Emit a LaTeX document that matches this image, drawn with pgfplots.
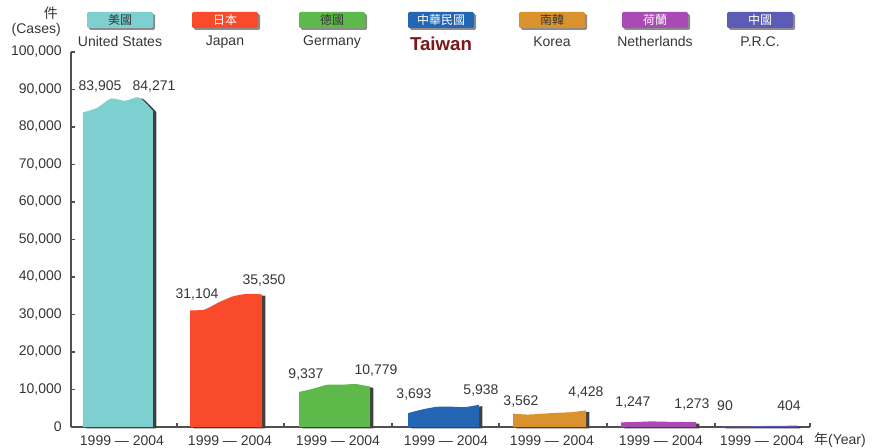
\documentclass[border=0pt]{standalone}
\usepackage{pgfplots}
\pgfplotsset{compat=1.18}
\usepackage{fontspec}
\setmainfont{Liberation Sans}
\newfontfamily\cjk{Noto Sans CJK TC}
\definecolor{cUS}{HTML}{7ECFCF}
\definecolor{cJP}{HTML}{FA4A2C}
\definecolor{cDE}{HTML}{5DB94A}
\definecolor{cTW}{HTML}{2466B4}
\definecolor{cKR}{HTML}{D9922E}
\definecolor{cNL}{HTML}{A94BB4}
\definecolor{cCN}{HTML}{5C5CB6}
\definecolor{txt}{HTML}{363636}
\definecolor{axc}{HTML}{505050}
\definecolor{twred}{HTML}{7E1518}
\begin{document}
\begin{tikzpicture}
\useasboundingbox (-53.25pt,-15.75pt) rectangle (602.25pt,320.25pt);
\begin{axis}[
  at={(0,0)}, anchor=south west,
  scale only axis, width=554.25pt, height=281.25pt,
  xmin=71, xmax=810, ymin=0, ymax=100000,
  axis x line*=bottom, axis y line*=left,
  axis line style={draw=axc, line width=1.1pt},
  ytick={0,10000,...,100000},
  scaled y ticks=false,
  tick label style={font=\fontsize{10.5}{12}\selectfont, text=txt},
  yticklabel style={xshift=-3.5pt, /pgf/number format/.cd, fixed, 1000 sep={,}, assume math mode=true},
  tick align=inside,
  major tick length=3pt,
  ytick style={draw=axc, line width=0.8pt},
  xtick={122,230,338,446,552,661,762},
  xticklabels={1999 — 2004,1999 — 2004,1999 — 2004,1999 — 2004,1999 — 2004,1999 — 2004,1999 — 2004},
  major x tick style={draw=none},
  minor xtick={177,284,392,499,607,715,810},
  minor tick length=3pt,
  minor x tick style={draw=axc, line width=0.8pt},
  xticklabel style={yshift=-3pt},
  clip=false,
]
% shadows
\addplot[fill=black!75, draw=none, xshift=2.6pt, yshift=-1pt, smooth, tension=0.4] coordinates {(83,83905)(97,85068)(111,87600)(125,86971)(139,87893)(153,84271)} \closedcycle;
\addplot[fill=black!75, draw=none, xshift=2.6pt, yshift=-1pt, smooth, tension=0.4] coordinates {(190,31104)(204.4,31295)(218.8,33223)(233.2,34859)(247.6,35515)(262,35350)} \closedcycle;
\addplot[fill=black!75, draw=none, xshift=2.6pt, yshift=-1pt, smooth, tension=0.4] coordinates {(299,9337)(313.2,10234)(327.4,11260)(341.6,11280)(355.8,11444)(370,10779)} \closedcycle;
\addplot[fill=black!75, draw=none, xshift=2.6pt, yshift=-1pt, smooth, tension=0.4] coordinates {(408,3693)(422.2,4667)(436.4,5371)(450.6,5431)(464.8,5298)(479,5938)} \closedcycle;
\addplot[fill=black!75, draw=none, xshift=2.6pt, yshift=-1pt, smooth, tension=0.4] coordinates {(513,3562)(527.6,3314)(542.2,3538)(556.8,3786)(571.4,3944)(586,4428)} \closedcycle;
\addplot[fill=black!75, draw=none, xshift=2.6pt, yshift=-1pt, smooth, tension=0.4] coordinates {(621,1247)(636,1331)(651,1482)(666,1401)(681,1342)(696,1273)} \closedcycle;
\addplot[fill=black!75, draw=none, xshift=2.6pt, yshift=-1pt, smooth, tension=0.4] coordinates {(722,90)(737,119)(752,195)(767,289)(782,297)(797,404)} \closedcycle;
% areas
\addplot[fill=cUS, draw=none, smooth, tension=0.4] coordinates {(83,83905)(97,85068)(111,87600)(125,86971)(139,87893)(153,84271)} \closedcycle;
\addplot[fill=cJP, draw=none, smooth, tension=0.4] coordinates {(190,31104)(204.4,31295)(218.8,33223)(233.2,34859)(247.6,35515)(262,35350)} \closedcycle;
\addplot[fill=cDE, draw=none, smooth, tension=0.4] coordinates {(299,9337)(313.2,10234)(327.4,11260)(341.6,11280)(355.8,11444)(370,10779)} \closedcycle;
\addplot[fill=cTW, draw=none, smooth, tension=0.4] coordinates {(408,3693)(422.2,4667)(436.4,5371)(450.6,5431)(464.8,5298)(479,5938)} \closedcycle;
\addplot[fill=cKR, draw=none, smooth, tension=0.4] coordinates {(513,3562)(527.6,3314)(542.2,3538)(556.8,3786)(571.4,3944)(586,4428)} \closedcycle;
\addplot[fill=cNL, draw=none, smooth, tension=0.4] coordinates {(621,1247)(636,1331)(651,1482)(666,1401)(681,1342)(696,1273)} \closedcycle;
\addplot[fill=cCN, draw=none, smooth, tension=0.4] coordinates {(722,90)(737,119)(752,195)(767,289)(782,297)(797,404)} \closedcycle;
\end{axis}
\begin{scope}[x=0.75pt,y=-0.75pt,shift={(-53.25pt,320.25pt)}, every node/.style={inner sep=0pt, text=txt, font=\fontsize{10.5}{12}\selectfont}]
% axis titles
\node at (51,13) {\cjk 件};
\node[anchor=east] at (61,30) {(Cases)};
\node at (840,440) {{\cjk 年}(Year)};
% value labels
\node at (100,87) {83,905};
\node at (154,87) {84,271};
\node at (197,295) {31,104};
\node at (264,281) {35,350};
\node at (306,375) {9,337};
\node at (376,371) {10,779};
\node at (414,395) {3,693};
\node at (481,391) {5,938};
\node at (521,402) {3,562};
\node at (586,393) {4,428};
\node at (633,403) {1,247};
\node at (692,405) {1,273};
\node at (725,406) {90};
\node at (789,406) {404};
% legend
\foreach \cx/\col/\zh/\zc/\en in {120/cUS/美國/txt/United States, 225/cJP/日本/white/Japan, 332/cDE/德國/txt/Germany, 552/cKR/南韓/txt/Korea, 655/cNL/荷蘭/white/Netherlands, 760/cCN/中國/white/P.R.C.}{
  \fill[black!45, rounded corners=1pt] (\cx-31,14) rectangle (\cx+35,30);
  \fill[\col, rounded corners=1pt] (\cx-33,12) rectangle (\cx+33,28);
  \node[text=\zc, font=\fontsize{9}{10}\selectfont\cjk] at (\cx,20) {\zh};
  \node at (\cx,42) {\en};
}
\fill[black!45, rounded corners=1pt] (410,14) rectangle (476,30);
\fill[cTW, rounded corners=1pt] (408,12) rectangle (474,28);
\node[text=white, font=\fontsize{9}{10}\selectfont\cjk] at (441,20) {中華民國};
\node[text=twred, font=\fontsize{14}{16}\selectfont\bfseries] at (441,44) {Taiwan};
\end{scope}
\end{tikzpicture}
\end{document}
